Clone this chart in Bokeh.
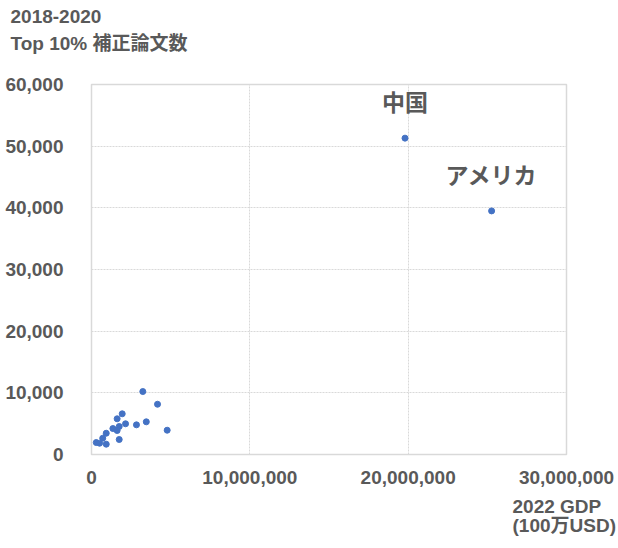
from bokeh.plotting import figure
from bokeh.models import (ColumnDataSource, FixedTicker, NumeralTickFormatter,
                          Label, Range1d, Title)
from bokeh.embed import file_html
from bokeh.resources import INLINE

# GDP 2022 (million USD) and Top 10% adjusted paper counts (2018-2020)
gdp_other = [3240000, 4170000, 1940000, 1620000, 2150000, 2840000, 3460000,
             4780000, 1750000, 1350000, 1620000, 930000, 710000, 1750000,
             300000, 510000, 930000]
papers_other = [10210, 8150, 6600, 5790, 4980, 4810, 5300, 3940, 4540, 4210,
                3890, 3450, 2640, 2430, 1940, 1830, 1670]

named_countries = ["中国", "アメリカ"]
named_gdp = [19800000, 25270000]
named_papers = [51300, 39500]

x_ticks = [0, 10000000, 20000000, 30000000]
y_ticks = [0, 10000, 20000, 30000, 40000, 50000, 60000]

title_lines = ["2018-2020", "Top 10% 補正論文数"]
xcap_lines = ["2022 GDP", "(100万USD)"]

FONT = "'Liberation Sans', 'Noto Sans CJK JP', sans-serif"
GRAY = "#595959"
DOT = "#4472C4"

p = figure(width=618, height=548, output_backend="svg", toolbar_location=None,
           x_range=Range1d(0, 30000000), y_range=Range1d(0, 60000),
           min_border_left=91, min_border_right=52, min_border_top=84,
           min_border_bottom=94)

p.outline_line_color = "#d9d9d9"
p.outline_line_width = 1.5

for ax in (p.xaxis, p.yaxis):
    ax.axis_line_color = None
    ax.major_tick_line_color = None
    ax.minor_tick_line_color = None
    ax.major_label_text_font = FONT
    ax.major_label_text_font_style = "bold"
    ax.major_label_text_font_size = "19px"
    ax.major_label_text_color = GRAY

p.xaxis.ticker = FixedTicker(ticks=x_ticks)
p.yaxis.ticker = FixedTicker(ticks=y_ticks)
p.xaxis.formatter = NumeralTickFormatter(format="0,0")
p.yaxis.formatter = NumeralTickFormatter(format="0,0")
p.yaxis.major_label_standoff = 22
p.xaxis.major_label_standoff = 10

p.xgrid.grid_line_color = "#d9d9d9"
p.ygrid.grid_line_color = "#d9d9d9"
p.xgrid.grid_line_dash = "2 1"
p.ygrid.grid_line_dash = "2 1"

src_other = ColumnDataSource(dict(x=gdp_other, y=papers_other))
p.scatter("x", "y", source=src_other, size=6, color=DOT)

src_named = ColumnDataSource(dict(x=named_gdp, y=named_papers, name=named_countries))
p.scatter("x", "y", source=src_named, size=6, color=DOT)

for name, gx, gy in zip(named_countries, named_gdp, named_papers):
    p.add_layout(Label(x=gx, y=gy, text=name, x_offset=0, y_offset=22,
                       text_align="center", text_baseline="bottom",
                       text_font=FONT, text_font_style="bold",
                       text_font_size="23px", text_color=GRAY))

# Title block above the plot, pulled out to the left edge; the blank
# third line keeps the two text lines near the top of the canvas
p.add_layout(Title(text="\n".join(title_lines + [" "]), align="left", offset=-81,
                   text_font=FONT, text_font_style="bold",
                   text_font_size="19px", text_color=GRAY,
                   text_line_height=1.3, standoff=6), "above")

# x-axis caption below, right of the last tick label
p.add_layout(Title(text="\n".join(xcap_lines), align="left", offset=421,
                   vertical_align="top",
                   text_font=FONT, text_font_style="bold",
                   text_font_size="19px", text_color=GRAY,
                   text_line_height=0.95, standoff=18), "below")

open("out.html", "w").write(file_html(p, INLINE))
